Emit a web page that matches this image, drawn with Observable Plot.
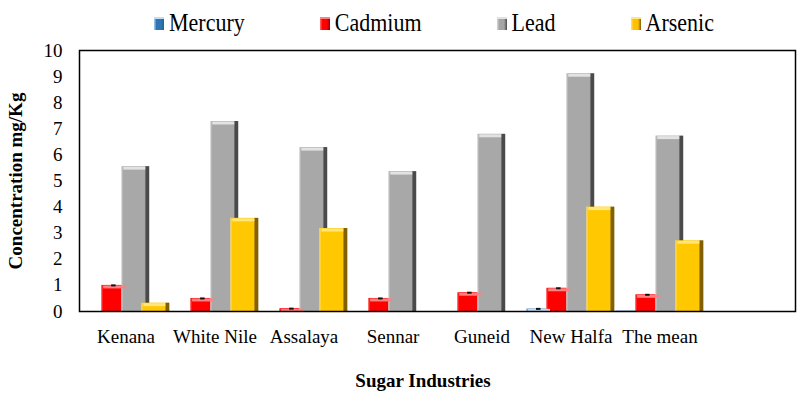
<!DOCTYPE html>
<html>
<head>
<meta charset="utf-8">
<script src="https://cdn.jsdelivr.net/npm/d3@7"></script>
<script src="https://cdn.jsdelivr.net/npm/@observablehq/plot@0.6"></script>
<style>
  html, body { margin: 0; padding: 0; background: #fff; }
  body { width: 800px; height: 399px; overflow: hidden; font-family: "Liberation Serif", "Times New Roman", serif; }
  #legend { height: 40px; display: flex; align-items: center; gap: 75px; padding-left: 154px; box-sizing: border-box; padding-top: 6px; }
  .item { display: flex; align-items: center; font-family: "Liberation Serif", "Times New Roman", serif; font-size: 22px; line-height: 22px; color: #000; }
  .item .lbl { display: inline-block; transform: scaleY(1.15); }
  .sw { width: 10px; height: 13px; margin-right: 5px; }
  #xtitle { height: 39px; text-align: center; font-family: "Liberation Serif", "Times New Roman", serif; font-weight: bold; font-size: 19px; line-height: 42px; padding-left: 46px; box-sizing: border-box; width: 800px; }
</style>
</head>
<body>
<div id="legend"></div>
<div id="chart"></div>
<div id="xtitle">Sugar Industries</div>
<script>
// ---- data ----
const categories = ["Kenana", "White Nile", "Assalaya", "Sennar", "Guneid", "New Halfa", "The mean"];
const metals = ["Mercury", "Cadmium", "Lead", "Arsenic"];
const mercury = [0, 0, 0, 0, 0, 0.1, 0.02];
const cadmium = [1.0, 0.5, 0.11, 0.5, 0.72, 0.89, 0.64];
const lead    = [5.55, 7.28, 6.28, 5.36, 6.79, 9.11, 6.72];
const arsenic = [0.32, 3.57, 3.18, 0, 0, 4.0, 2.71];
const yTicks = [0, 1, 2, 3, 4, 5, 6, 7, 8, 9, 10];

// ---- styles ----
const palette = {
  Mercury: {light: "#b5d3ef", body: "#6fa3d8", dark: "#2d5f8f", bevel: "#c6ddf2", swatch: "#2e75b6"},
  Cadmium: {light: "#ff7070", body: "#ff0000", dark: "#8a0000", bevel: "#ff8080", swatch: "#ff0000"},
  Lead:    {light: "#d6d6d6", body: "#a8a8a8", dark: "#4a4a4a", bevel: "#e2e2e2", swatch: "#a6a6a6"},
  Arsenic: {light: "#ffe27a", body: "#ffc800", dark: "#806000", bevel: "#ffe680", swatch: "#ffc000"}
};
const seriesValues = {Mercury: mercury, Cadmium: cadmium, Lead: lead, Arsenic: arsenic};
const slots = [...categories, " "];   // the reference keeps an empty eighth slot

const table = [];
categories.forEach((c, i) => metals.forEach(m => table.push({category: c, metal: m, value: seriesValues[m][i]})));

// legend
const legend = document.getElementById("legend");
metals.forEach(m => {
  const p = palette[m];
  const it = document.createElement("div");
  it.className = "item";
  it.innerHTML = `<span class="sw" style="background: linear-gradient(90deg, ${p.light} 0%, ${p.swatch} 25%, ${p.swatch} 70%, ${p.dark} 100%); box-shadow: inset 0 2px 0 ${p.bevel};"></span><span class="lbl">${m}</span>`;
  legend.appendChild(it);
});

// layout
const W = 800, H = 320, mL = 79, mR = 5, mT = 10, mB = 49;
const bandW = (W - mL - mR) / slots.length;   // width of one category slot
const step = bandW / 4.45;                     // offset between bars in a group
const barW = step + 8.4;                       // bars overlap (bevel + shadow)
const insetsFor = (m, extraL = 0, extraR = 0) => {
  const j = metals.indexOf(m);
  return {insetLeft: j * step + extraL, insetRight: bandW - j * step - barW + extraR};
};

const barMarks = metals.map(m => Plot.barY(table.filter(d => d.metal === m && d.value > 0), {
  x: "category", y: "value", fill: `url(#g-${m})`, ...insetsFor(m)
}));
const bevelMarks = metals.map(m => Plot.tickY(table.filter(d => d.metal === m && d.value > 0.05), {
  x: "category", y: "value", stroke: palette[m].bevel, strokeWidth: 3, dy: 1.5, ...insetsFor(m, 2, 4)
}));
const errMarks = ["Mercury", "Cadmium"].map(m => Plot.tickY(table.filter(d => d.metal === m && d.value > 0.05), {
  x: "category", y: "value", stroke: "#111", strokeWidth: 2, ...insetsFor(m, 10, step - 15 + 8.4)
}));

const chart = Plot.plot({
  width: W,
  height: H,
  marginLeft: mL,
  marginRight: mR,
  marginTop: mT,
  marginBottom: mB,
  style: {fontFamily: "'Liberation Serif', 'Times New Roman', serif", fontSize: "19px", color: "#000", background: "#fff", overflow: "visible"},
  x: {domain: slots, padding: 0},
  y: {domain: [0, 10]},
  marks: [
    ...barMarks,
    ...bevelMarks,
    ...errMarks,
    Plot.frame({stroke: "#000", strokeWidth: 1.5}),
    Plot.axisY({ticks: yTicks, tickSize: 0, tickPadding: 17, fontSize: 19, label: "Concentration mg/Kg", labelAnchor: "center", labelArrow: "none", labelOffset: 71}),
    Plot.axisX({anchor: "bottom", tickSize: 0, tickPadding: 18, fontSize: 19, label: null})
  ]
});
document.getElementById("chart").appendChild(chart);

// gradients for bevelled bars
const svg = chart.tagName.toLowerCase() === "svg" ? chart : chart.querySelector("svg");
const defs = d3.select(svg).insert("defs", ":first-child");
metals.forEach(m => {
  const p = palette[m];
  const g = defs.append("linearGradient").attr("id", `g-${m}`).attr("x1", 0).attr("x2", 1).attr("y1", 0).attr("y2", 0);
  [[0, p.light], [0.07, p.body], [0.83, p.body], [0.89, p.dark], [1, p.dark]].forEach(([o, c]) =>
    g.append("stop").attr("offset", o).attr("stop-color", c));
});
d3.select(svg).selectAll("text").filter(function() { return this.textContent === "Concentration mg/Kg"; }).attr("font-weight", "bold");
</script>
</body>
</html>
